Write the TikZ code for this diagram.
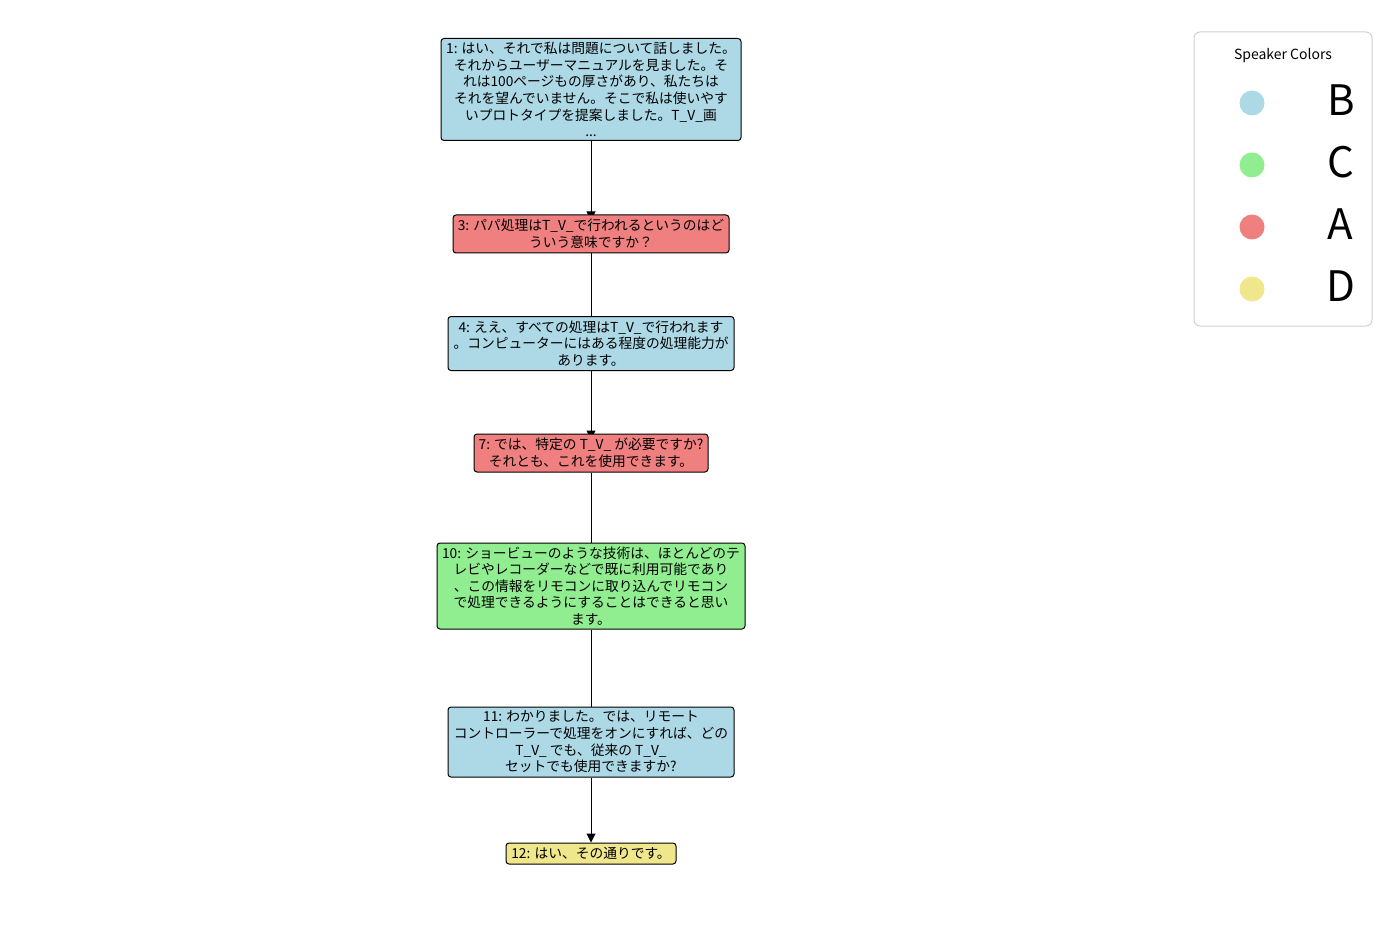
\documentclass[tikz,border=0pt]{standalone}
\usepackage{fontspec}
\setmainfont{Noto Sans CJK JP}
\usetikzlibrary{arrows.meta,backgrounds}
\definecolor{cB}{HTML}{ADD8E6}
\definecolor{cC}{HTML}{90EE90}
\definecolor{cA}{HTML}{F08080}
\definecolor{cD}{HTML}{F0E68C}
\definecolor{legborder}{HTML}{D0D0D0}
\tikzset{
  msg/.style={draw=black, line width=1pt, rounded corners=3pt, align=center,
    inner sep=0pt, text=black, font=\fontsize{13.75}{16.6}\selectfont},
  conn/.style={draw=black, line width=1pt},
  tip/.style={-{Triangle[length=9pt,width=9pt]}},
  legdot/.style={circle, inner sep=0pt, minimum size=25pt, draw=none},
  legletter/.style={inner sep=0pt, font=\fontsize{42}{46}\selectfont, text=black},
}
\begin{document}
\begin{tikzpicture}[x=1pt,y=-1pt]
\useasboundingbox (0,0) rectangle (1382,944);

\node[msg, fill=cB, minimum width=300pt, minimum height=102pt] (n1) at (591,89.5)
  {1: はい、それで私は問題について話しました。\\それからユーザーマニュアルを見ました。そ\\れは100ページもの厚さがあり、私たちは\\それを望んでいません。そこで私は使いやす\\いプロトタイプを提案しました。T\_V\_画\\...};
\node[msg, fill=cA, minimum width=276pt, minimum height=38pt] (n3) at (591,234)
  {3: パパ処理はT\_V\_で行われるというのはど\\ういう意味ですか？};
\node[msg, fill=cB, minimum width=286pt, minimum height=54pt] (n4) at (591,343.5)
  {4: ええ、すべての処理はT\_V\_で行われます\\。コンピューターにはある程度の処理能力が\\あります。};
\node[msg, fill=cA, minimum width=234pt, minimum height=38pt] (n7) at (591,453)
  {7: では、特定の T\_V\_ が必要ですか?\\それとも、これを使用できます。};
\node[msg, fill=cC, minimum width=308pt, minimum height=86pt] (n10) at (591,586)
  {10: ショービューのような技術は、ほとんどのテ\\レビやレコーダーなどで既に利用可能であり\\、この情報をリモコンに取り込んでリモコン\\で処理できるようにすることはできると思い\\ます。};
\node[msg, fill=cB, minimum width=286pt, minimum height=70pt] (n11) at (591,742)
  {11: わかりました。では、リモート\\コントローラーで処理をオンにすれば、どの\\T\_V\_ でも、従来の T\_V\_\\セットでも使用できますか?};
\node[msg, fill=cD, minimum width=170pt, minimum height=21pt] (n12) at (591,853.5)
  {12: はい、その通りです。};

\begin{scope}[on background layer]
  \fill[white] (0,0) rectangle (1382,944);
  \draw[conn, tip] (n1.south) -- ([yshift=-6pt]n3.north);
  \draw[conn] (n3.south) -- (n4.north);
  \draw[conn, tip] (n4.south) -- ([yshift=-6pt]n7.north);
  \draw[conn] (n7.south) -- (n10.north);
  \draw[conn] (n10.south) -- (n11.north);
\end{scope}
\draw[conn, tip] (n11.south) -- (n12.north);

% legend
\node[draw=legborder, line width=1pt, fill=white, rounded corners=6pt,
  minimum width=178pt, minimum height=294pt, inner sep=0pt] (leg) at (1283,179) {};
\node[inner sep=0pt, font=\fontsize{14}{16}\selectfont] (legtitle) at (1283,55.5) {Speaker Colors};
\node[legdot, fill=cB] (dB) at (1252,103) {};
\node[legdot, fill=cC] (dC) at (1252,165) {};
\node[legdot, fill=cA] (dA) at (1252,227) {};
\node[legdot, fill=cD] (dD) at (1252,289) {};
\node[legletter] (lB) at (1341,100) {B};
\node[legletter] (lC) at (1341,162) {C};
\node[legletter] (lA) at (1340,224) {A};
\node[legletter] (lD) at (1341,286) {D};
\end{tikzpicture}
\end{document}
